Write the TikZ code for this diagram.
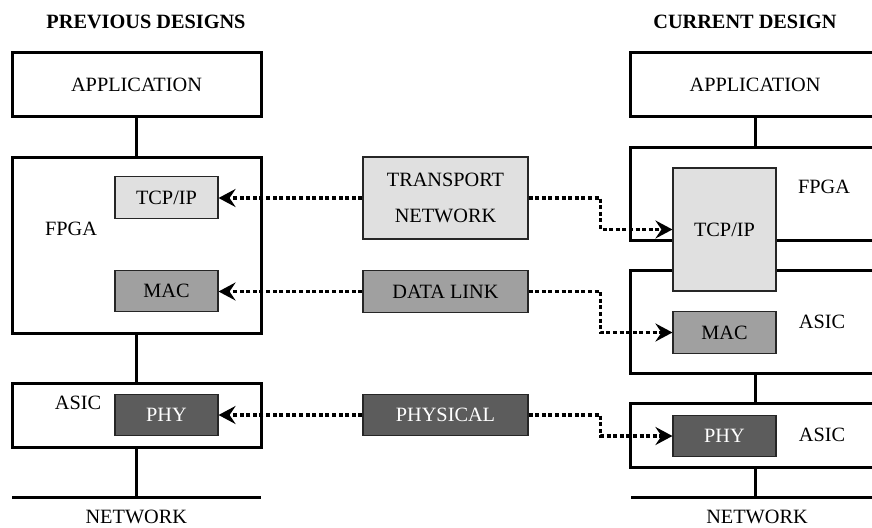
\documentclass[tikz,border=0pt]{standalone}
\usepackage{fontspec}
\setmainfont{Liberation Serif}
\usetikzlibrary{arrows.meta}
\definecolor{lightfill}{HTML}{E0E0E0}
\definecolor{midfill}{HTML}{A0A0A0}
\definecolor{darkfill}{HTML}{5C5C5C}
\begin{document}
\begin{tikzpicture}[x=1pt,y=-1pt,
  font=\fontsize{20.3}{24}\selectfont,
  layerbox/.style={draw=black, line width=3pt, minimum width=249pt, inner sep=0pt},
  blockbase/.style={draw=black!85, line width=1.1pt, minimum width=103pt, minimum height=41.5pt, inner sep=0pt},
  lightblk/.style={blockbase, fill=lightfill},
  midblk/.style={blockbase, fill=midfill},
  darkblk/.style={blockbase, fill=darkfill, text=white},
  osiblk/.style={minimum width=165pt},
  stem/.style={line width=3pt},
  netline/.style={line width=3pt},
  label/.style={inner sep=0pt},
  title/.style={inner sep=0pt, font=\fontsize{20.3}{24}\selectfont\bfseries},
  dotlink/.style={line width=3.5pt, dash pattern=on 4pt off 2.6pt,
    -{Stealth[length=17pt, width=18pt, inset=6pt]}},
]
\useasboundingbox (0,0) rectangle (872,527);
\clip (0,0) rectangle (872,527);

% ---------- titles ----------
\node[title] (tprev) at (146,21.5) {PREVIOUS DESIGNS};
\node[title] (tcurr) at (745,21.5) {CURRENT DESIGN};

% ---------- previous designs stack ----------
\node[layerbox, minimum height=63pt] (appL) at (136.5,84.5) {APPLICATION};
\node[layerbox, minimum height=176pt] (fpgaL) at (136.5,245) {};
\node[layerbox, minimum height=64pt] (asicL) at (136.5,415) {};
\node[lightblk] (tcpL) at (166.5,197.5) {TCP/IP};
\node[midblk] (macL) at (166.5,291) {MAC};
\node[darkblk] (phyL) at (166.5,415) {PHY};
\node[label] (fpgaLlab) at (71,228.5) {FPGA};
\node[label] (asicLlab) at (78,403.3) {ASIC};
\coordinate (netLa) at (12,497);
\coordinate (netLb) at (261,497);
\draw[netline] (netLa) -- (netLb);
\node[label] (netLlab) at (136.3,516.7) {NETWORK};
\draw[stem] (appL.south) -- (fpgaL.north);
\draw[stem] (fpgaL.south) -- (asicL.north);
\draw[stem] (asicL.south) -- (asicL.south |- netLa);

% ---------- OSI layers ----------
\node[lightblk, osiblk, minimum height=82pt, align=center,
      font=\fontsize{20.3}{36.7}\selectfont] (trans) at (445.5,198) {TRANSPORT\\NETWORK};
\node[midblk, osiblk] (dlink) at (445.5,291.5) {DATA LINK};
\node[darkblk, osiblk] (phys) at (445.5,415) {PHYSICAL};

% ---------- current design stack ----------
\node[layerbox, minimum height=63pt] (appR) at (755,84.5) {APPLICATION};
\node[layerbox, minimum height=93pt] (fpgaR) at (755,193.5) {};
\node[layerbox, minimum height=103pt] (asicR1) at (755,321.5) {};
\node[layerbox, minimum height=64pt] (asicR2) at (755,435) {};
\node[lightblk, minimum height=123pt] (tcpR) at (724.5,229.5) {TCP/IP};
\node[midblk] (macR) at (724.5,332.5) {MAC};
\node[darkblk] (phyR) at (724.5,436) {PHY};
\node[label] (fpgaRlab) at (824,187) {FPGA};
\node[label] (asicR1lab) at (822,321.7) {ASIC};
\node[label] (asicR2lab) at (822,435) {ASIC};
\coordinate (netRa) at (631,497);
\coordinate (netRb) at (880,497);
\draw[netline] (netRa) -- (netRb);
\node[label] (netRlab) at (757,516.7) {NETWORK};
\draw[stem] (appR.south) -- (fpgaR.north);
\draw[stem] (asicR1.south) -- (asicR2.north);
\draw[stem] (asicR2.south) -- (asicR2.south |- netRa);

% ---------- layer mappings ----------
\draw[dotlink] (trans.west) -- (trans.west -| tcpL.east);
\draw[dotlink] (dlink.west) -- (dlink.west -| macL.east);
\draw[dotlink] (phys.west) -- (phys.west -| phyL.east);
\draw[dotlink] (trans.east) -- ++(72,0) |- (tcpR.west);
\draw[dotlink] (dlink.east) -- ++(72,0) |- (macR.west);
\draw[dotlink] (phys.east) -- ++(72,0) |- (phyR.west);
\end{tikzpicture}
\end{document}
